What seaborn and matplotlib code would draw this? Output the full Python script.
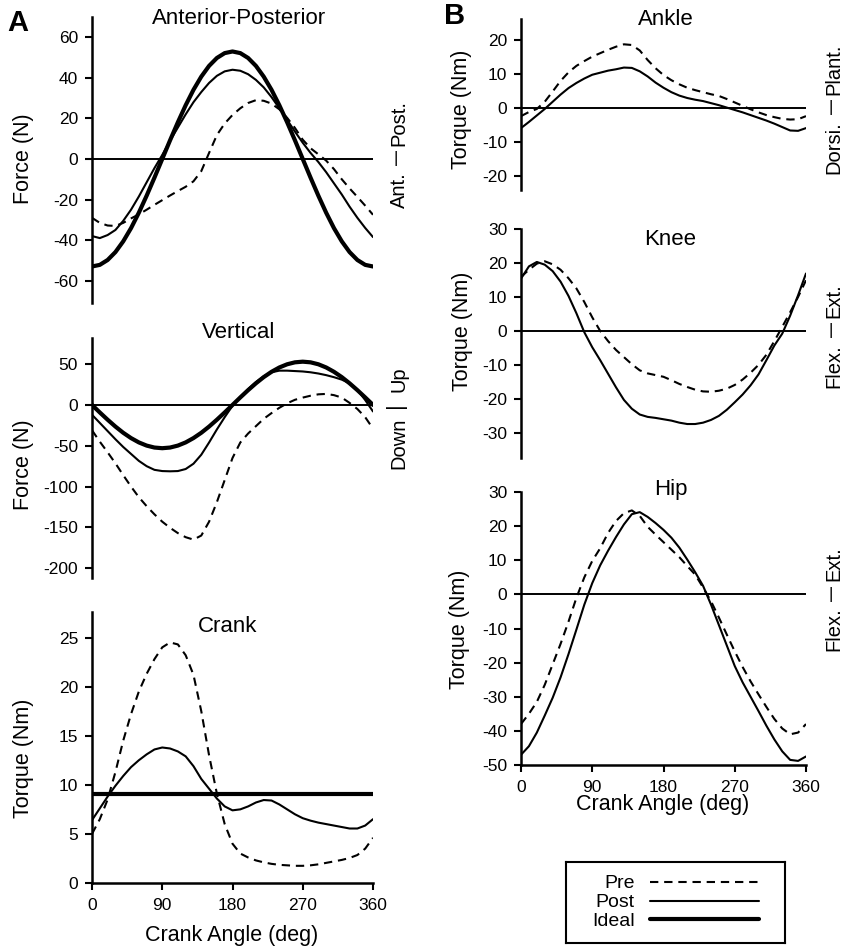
import matplotlib
matplotlib.use("Agg")
import matplotlib.pyplot as plt
import pandas as pd
import seaborn as sns

# ---------------------------------------------------------------- data
angle = list(range(0, 361, 10))          # crank angle (deg)

# Pedal forces (N)
ap_pre = [-29, -31.5, -32.8, -33, -31.5, -29.3, -27.3, -25, -22.6, -20.3, -18, -15.8, -13.7,
          -11, -6, 3, 11.8, 17.5, 21.7, 25, 27.6, 29, 28.7, 27.3, 24.5, 20.3, 15.3,
          9.5, 5.3, 2.3, -0.8, -5, -10, -14.5, -18.7, -23, -27.5]
ap_post = [-38, -39, -37.5, -35, -30.5, -25, -18.5, -11.5, -4.5, 2, 9, 15.5, 22,
           28, 33, 37.5, 41, 43.2, 44, 43.5, 41.8, 39, 35.3, 30.5, 25, 19.3, 13.5,
           8, 3, -1.5, -6.5, -12, -17.5, -23.5, -29, -34, -38.5]
ap_ideal = [-53, -52.2, -49.8, -45.9, -40.6, -34.1, -26.5, -18.1, -9.2, 0, 9.2, 18.1, 26.5,
            34.1, 40.6, 45.9, 49.8, 52.2, 53, 52.2, 49.8, 45.9, 40.6, 34.1, 26.5, 18.1, 9.2,
            0, -9.2, -18.1, -26.5, -34.1, -40.6, -45.9, -49.8, -52.2, -53]

vert_pre = [-31, -45, -58, -71.5, -86, -100, -113, -124, -134, -143, -150.5, -157, -162,
            -165, -160, -143, -119, -92, -65, -46, -35, -26, -17, -10, -3.5, 2, 6.3,
            9, 11.3, 13, 13.5, 12, 9, 2.5, -5, -15, -29]
vert_post = [-12, -22, -32, -42, -51.5, -60, -68.5, -75, -79.5, -81, -81.3, -81, -78.5,
             -72, -61, -46, -30, -15, -1, 10, 19.5, 28, 35, 40, 42, 42, 41.5,
             41, 40, 38.5, 36.5, 34, 31, 26.5, 18.5, 6, -8]
vert_ideal = [0, -9.2, -18.1, -26.5, -34.1, -40.6, -45.9, -49.8, -52.2, -53, -52.2, -49.8, -45.9,
              -40.6, -34.1, -26.5, -18.1, -9.2, 0, 9.2, 18.1, 26.5, 34.1, 40.6, 45.9, 49.8, 52.2,
              53, 52.2, 49.8, 45.9, 40.6, 34.1, 26.5, 18.1, 9.2, 0]

# Crank torque (Nm)
crank_pre = [5.0, 6.5, 8.5, 11.3, 14.5, 17.2, 19.5, 21.3, 22.8, 24.0, 24.5, 24.3, 23.2,
             21.2, 17.5, 13.0, 9.1, 6.0, 4.0, 3.0, 2.6, 2.3, 2.1, 1.95, 1.85, 1.8, 1.75,
             1.75, 1.8, 1.9, 2.05, 2.2, 2.35, 2.55, 2.85, 3.5, 4.6]
crank_post = [6.4, 7.6, 8.8, 9.9, 10.9, 11.8, 12.5, 13.1, 13.6, 13.8, 13.7, 13.4, 12.9,
              11.9, 10.6, 9.6, 8.6, 7.8, 7.4, 7.5, 7.8, 8.2, 8.45, 8.4, 8.0, 7.5, 7.0,
              6.6, 6.35, 6.15, 6.0, 5.85, 5.7, 5.55, 5.55, 5.85, 6.5]
crank_ideal = [9.1, 9.1, 9.1, 9.1, 9.1, 9.1, 9.1, 9.1, 9.1, 9.1, 9.1, 9.1, 9.1,
               9.1, 9.1, 9.1, 9.1, 9.1, 9.1, 9.1, 9.1, 9.1, 9.1, 9.1, 9.1, 9.1, 9.1,
               9.1, 9.1, 9.1, 9.1, 9.1, 9.1, 9.1, 9.1, 9.1, 9.1]

# Joint torques (Nm)
ankle_pre = [-2.4, -1.2, -0.3, 1.8, 4.8, 7.9, 10.4, 12.3, 13.7, 15.0, 16.0, 17.0, 17.9,
             18.6, 18.4, 16.8, 14.0, 11.6, 9.6, 8.1, 6.9, 5.9, 5.2, 4.6, 4.0, 3.5, 2.6,
             1.6, 0.6, -0.4, -1.3, -2.1, -2.7, -3.2, -3.4, -3.3, -2.4]
ankle_post = [-5.9, -4.1, -2.2, -0.3, 1.8, 3.9, 5.8, 7.3, 8.6, 9.7, 10.3, 10.9, 11.3,
              11.8, 11.7, 10.7, 9.2, 7.4, 5.9, 4.6, 3.6, 2.9, 2.4, 2.0, 1.4, 0.8, 0.1,
              -0.6, -1.3, -2.1, -2.9, -3.7, -4.6, -5.6, -6.6, -6.7, -5.9]

knee_pre = [15.9, 18.0, 19.8, 20.5, 19.6, 18.0, 15.5, 12.5, 8.5, 4.0, 0.0, -3.0, -5.6,
            -7.7, -9.8, -11.6, -12.5, -13.0, -13.5, -14.5, -15.6, -16.5, -17.3, -17.8, -17.9, -17.6, -17.0,
            -15.9, -14.3, -12.3, -10.0, -7.0, -3.0, 1.2, 5.5, 10.0, 14.9]
knee_post = [15.4, 19.0, 20.3, 19.5, 17.6, 14.5, 10.3, 5.2, -0.4, -4.8, -8.6, -12.6, -16.6,
             -20.3, -22.9, -24.6, -25.3, -25.6, -26.0, -26.4, -27.0, -27.4, -27.4, -27.0, -26.2, -25.0, -23.2,
             -21.0, -18.7, -16.0, -12.8, -8.6, -4.3, -0.8, 4.5, 10.5, 16.9]

hip_pre = [-38, -35, -31.5, -26.5, -20.5, -14.5, -8, -1, 5, 9.8, 13.5, 18.0, 21.5,
           23.8, 24.6, 23.0, 19.8, 17.5, 15.3, 13.1, 10.9, 8.3, 5.8, 2.0, -2.0, -6.8, -11.8,
           -16.7, -21.3, -25.5, -29.3, -33.0, -36.5, -39.3, -41.0, -40.5, -38]
hip_post = [-47, -44.5, -40.5, -35.5, -30.3, -24.3, -17.5, -10.3, -3.0, 3.3, 8.5, 12.8, 16.8,
            20.5, 23.5, 24.1, 22.7, 20.9, 18.9, 16.6, 13.7, 10.2, 6.5, 2.5, -3.0, -9.0, -15.0,
            -21.0, -25.8, -30.0, -34.2, -38.5, -42.5, -46.0, -48.5, -48.8, -47.5]

angle_ticks = [0, 90, 180, 270, 360]
conditions = ["Pre", "Post", "Ideal"]

# ---------------------------------------------------------------- style
sns.set_theme(style="ticks", rc={
    "axes.edgecolor": "black",
    "xtick.color": "black",
    "ytick.color": "black",
    "text.color": "black",
    "axes.labelcolor": "black",
    "axes.unicode_minus": False,
})
plt.rcParams["font.family"] = ["Liberation Sans", "DejaVu Sans"]

LINE_STYLE = {
    "Pre": dict(linewidth=1.5, linestyle=(0, (4, 2.8))),
    "Post": dict(linewidth=1.5, linestyle="-"),
    "Ideal": dict(linewidth=3.0, linestyle="-"),
}

W, H = 844, 946
fig = plt.figure(figsize=(W / 100, H / 100), dpi=100)


def px_axes(x0, y0, x1, y1):
    return fig.add_axes([x0 / W, 1 - y1 / H, (x1 - x0) / W, (y1 - y0) / H])


def ftext(x, y, s, **kw):
    return fig.text(x / W, 1 - y / H, s, **kw)


panels = [
    dict(box=(92, 17, 373, 303), title="Anterior-Posterior", title_xy=(239, 24),
         ylabel="Force (N)", ylabel_xy=(23, 159), ylim=(-71, 70),
         yticks=[-60, -40, -20, 0, 20, 40, 60],
         series={"Pre": ap_pre, "Post": ap_post, "Ideal": ap_ideal},
         zero=True, xaxis=False, sides=("Post.", "Ant."), side_x=399, bar_rot=0, bar_size=12),
    dict(box=(92, 338, 373, 578), title="Vertical", title_xy=(239, 338),
         ylabel="Force (N)", ylabel_xy=(23, 465), ylim=(-212, 82),
         yticks=[-200, -150, -100, -50, 0, 50],
         series={"Pre": vert_pre, "Post": vert_post, "Ideal": vert_ideal},
         zero=True, xaxis=False, sides=("Up", "Down"), side_x=399, bar_rot=90, bar_size=16),
    dict(box=(92, 612, 373, 883), title="Crank", title_xy=(228, 632),
         ylabel="Torque (Nm)", ylabel_xy=(23, 758), ylim=(0, 27.6),
         yticks=[0, 5, 10, 15, 20, 25],
         series={"Pre": crank_pre, "Post": crank_post, "Ideal": crank_ideal},
         zero=False, xaxis=True, sides=None),
    dict(box=(521, 19, 806, 190), title="Ankle", title_xy=(666, 25),
         ylabel="Torque (Nm)", ylabel_xy=(461, 109), ylim=(-24, 26),
         yticks=[-20, -10, 0, 10, 20],
         series={"Pre": ankle_pre, "Post": ankle_post},
         zero=True, xaxis=False, sides=("Plant.", "Dorsi."), side_x=834, bar_rot=0, bar_size=12),
    dict(box=(521, 229, 806, 458), title="Knee", title_xy=(670, 245),
         ylabel="Torque (Nm)", ylabel_xy=(462, 331), ylim=(-37.4, 30),
         yticks=[-30, -20, -10, 0, 10, 20, 30],
         series={"Pre": knee_pre, "Post": knee_post},
         zero=True, xaxis=False, sides=("Ext.", "Flex."), side_x=834, bar_rot=0, bar_size=12),
    dict(box=(521, 492, 806, 765), title="Hip", title_xy=(671, 495),
         ylabel="Torque (Nm)", ylabel_xy=(460, 629), ylim=(-50, 30),
         yticks=[-50, -40, -30, -20, -10, 0, 10, 20, 30],
         series={"Pre": hip_pre, "Post": hip_post},
         zero=True, xaxis=True, sides=("Ext.", "Flex."), side_x=834, bar_rot=0, bar_size=12),
]

legend_handles = None

for p in panels:
    x0, y0, x1, y1 = p["box"]
    ax = px_axes(x0, y0, x1, y1)
    df = (pd.DataFrame({"angle": angle, **p["series"]})
          .melt("angle", var_name="condition", value_name="value"))
    for cond in conditions:
        if cond in p["series"]:
            sns.lineplot(data=df[df["condition"] == cond], x="angle", y="value",
                         ax=ax, color="black", legend=False, **LINE_STYLE[cond])
    if p["series"].keys() >= set(conditions):
        legend_handles = ax.get_lines()[:3]

    if p["zero"]:
        ax.axhline(0, color="black", linewidth=1.4, zorder=0.5)

    ax.set_xlim(0, 360)
    ax.set_ylim(*p["ylim"])
    ax.set_yticks(p["yticks"])
    ax.set_xlabel("")
    ax.set_ylabel("")
    sns.despine(ax=ax, bottom=not p["xaxis"])
    ax.spines["left"].set_linewidth(1.8)
    ax.tick_params(axis="y", direction="out", length=5, width=1.5,
                   labelsize=12.5, pad=5)
    if p["xaxis"]:
        ax.spines["bottom"].set_linewidth(1.8)
        ax.set_xticks(angle_ticks)
        ax.tick_params(axis="x", direction="out", length=5, width=1.5,
                       labelsize=12.5, pad=6)
    else:
        ax.tick_params(axis="x", bottom=False, labelbottom=False)

    tx, ty = p["title_xy"]
    ftext(tx, ty, p["title"], fontsize=16, ha="center", va="baseline")
    lx, ly = p["ylabel_xy"]
    ftext(lx, ly, p["ylabel"], fontsize=15.5, rotation=90, ha="center", va="center")

    if p["sides"]:
        top, bot = p["ylim"][1], p["ylim"][0]
        zy = y0 + (top - 0) / (top - bot) * (y1 - y0)
        sx = p["side_x"]
        gap = 13
        ftext(sx, zy - gap, p["sides"][0], fontsize=14.5, rotation=90,
              ha="center", va="bottom")
        ftext(sx, zy + gap, p["sides"][1], fontsize=14.5, rotation=90,
              ha="center", va="top")
        ftext(sx - 3, zy, "|", fontsize=p["bar_size"], rotation=p["bar_rot"],
              ha="center", va="center")

# x-axis titles
ftext(232, 941, "Crank Angle (deg)", fontsize=15.5, ha="center", va="baseline")
ftext(663, 810, "Crank Angle (deg)", fontsize=15.5, ha="center", va="baseline")

# panel letters
ftext(18, 31, "A", fontsize=21, fontweight="bold", ha="center", va="baseline")
ftext(455, 24, "B", fontsize=21, fontweight="bold", ha="center", va="baseline")

# legend in its own framed box
lax = px_axes(566, 862, 785, 943)
lax.set_xticks([])
lax.set_yticks([])
for s in lax.spines.values():
    s.set_visible(True)
    s.set_linewidth(1.5)
    s.set_color("black")
lax.legend(legend_handles, conditions, loc="center", frameon=False,
           markerfirst=False, fontsize=14, handlelength=5.6,
           handletextpad=0.8, labelspacing=0.07, borderpad=0)

fig.savefig("out.png", dpi=100)
